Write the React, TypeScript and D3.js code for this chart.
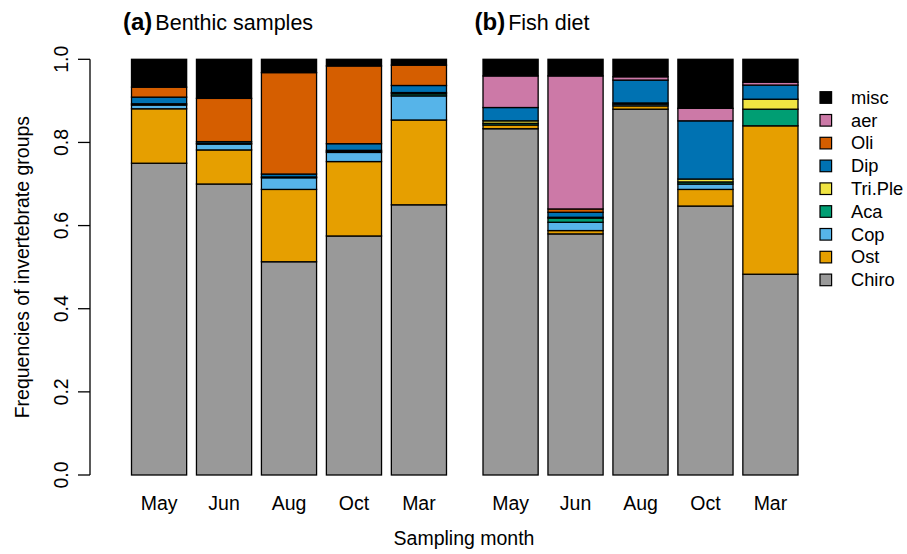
import React from "react";
import * as d3 from "d3";

const months = ["May", "Jun", "Aug", "Oct", "Mar"];
const groups = ["Chiro", "Ost", "Cop", "Aca", "Tri.Ple", "Dip", "Oli", "aer", "misc"];
const groupColors = ["#999999", "#E69F00", "#56B4E9", "#009E73", "#F0E442", "#0072B2", "#D55E00", "#CC79A7", "#000000"];
const yTicks = [0, 0.2, 0.4, 0.6, 0.8, 1.0];

// Benthic samples, per month, in order of groups
const benthicMay = [0.750, 0.131, 0.009, 0.003, 0.000, 0.016, 0.024, 0.000, 0.067];
const benthicJun = [0.700, 0.082, 0.014, 0.002, 0.000, 0.004, 0.104, 0.000, 0.094];
const benthicAug = [0.513, 0.174, 0.028, 0.002, 0.000, 0.007, 0.244, 0.000, 0.032];
const benthicOct = [0.575, 0.179, 0.022, 0.002, 0.003, 0.016, 0.187, 0.000, 0.016];
const benthicMar = [0.650, 0.204, 0.058, 0.005, 0.003, 0.017, 0.049, 0.000, 0.014];

// Fish diet
const dietMay = [0.833, 0.009, 0.000, 0.004, 0.006, 0.032, 0.000, 0.076, 0.040];
const dietJun = [0.580, 0.008, 0.020, 0.010, 0.002, 0.012, 0.008, 0.320, 0.040];
const dietAug = [0.880, 0.008, 0.004, 0.000, 0.003, 0.055, 0.000, 0.008, 0.042];
const dietOct = [0.647, 0.040, 0.013, 0.005, 0.007, 0.140, 0.000, 0.030, 0.118];
const dietMar = [0.483, 0.357, 0.000, 0.040, 0.024, 0.034, 0.000, 0.007, 0.055];

const benthic = [benthicMay, benthicJun, benthicAug, benthicOct, benthicMar];
const diet = [dietMay, dietJun, dietAug, dietOct, dietMar];

const W = 907;
const H = 554;
const FONT = "'Liberation Sans', Arial, sans-serif";

const y = d3.scaleLinear().domain([0, 1]).range([475, 59.3]);

function Panel({ data, x0, x1, label, title }: { data: number[][]; x0: number; x1: number; label: string; title: string }) {
  const x = d3.scaleBand<string>().domain(months).range([x0, x1]).paddingInner(0.151).paddingOuter(0);
  return (
    <g>
      {data.map((vals, i) => {
        let cum = 0;
        const m = months[i];
        return (
          <g key={m}>
            {vals.map((v, j) => {
              const lo = cum;
              cum += v;
              if (v <= 0) return null;
              return (
                <rect
                  key={groups[j]}
                  x={x(m)}
                  y={y(cum)}
                  width={x.bandwidth()}
                  height={y(lo) - y(cum)}
                  fill={groupColors[j]}
                  stroke="#000"
                  strokeWidth={1.3}
                />
              );
            })}
            <text x={(x(m) as number) + x.bandwidth() / 2} y={509.5} textAnchor="middle" fontSize={19.5} fontFamily={FONT}>
              {m}
            </text>
          </g>
        );
      })}
      <text x={x0 - 8.5} y={30} fontFamily={FONT}>
        <tspan fontWeight="bold" fontSize={24}>{label}</tspan>
        <tspan dx={3} fontSize={21.5}>{title}</tspan>
      </text>
    </g>
  );
}

export default function App() {
  const legendOrder = [...groups.keys()].reverse();
  return (
    <svg width={W} height={H} style={{ position: "absolute", left: 0, top: 0, background: "#fff" }}>
      <rect width={W} height={H} fill="#fff" />
      {/* y axis */}
      <line x1={90} x2={90} y1={y(0)} y2={y(1)} stroke="#000" strokeWidth={1.3} />
      {yTicks.map((t) => (
        <g key={t}>
          <line x1={78} x2={90} y1={y(t)} y2={y(t)} stroke="#000" strokeWidth={1.3} />
          <text
            transform={`translate(68,${y(t)}) rotate(-90)`}
            textAnchor="middle"
            fontSize={19.5}
            fontFamily={FONT}
          >
            {t.toFixed(1)}
          </text>
        </g>
      ))}
      <text transform={`translate(29,${(y(0) + y(1)) / 2}) rotate(-90)`} textAnchor="middle" fontSize={19.5} fontFamily={FONT}>
        Frequencies of invertebrate groups
      </text>
      <Panel data={benthic} x0={131.5} x1={446.5} label="(a)" title="Benthic samples" />
      <Panel data={diet} x0={483} x1={798} label="(b)" title="Fish diet" />
      <text x={464} y={545} textAnchor="middle" fontSize={19.5} fontFamily={FONT}>
        Sampling month
      </text>
      {legendOrder.map((j, k) => {
        const cy = 97.5 + k * 22.8;
        return (
          <g key={groups[j]}>
            <rect x={820} y={cy - 5.8} width={11.6} height={11.6} fill={groupColors[j]} stroke="#000" strokeWidth={1.2} />
            <text x={851} y={cy + 6.3} fontSize={18.3} fontFamily={FONT}>
              {groups[j]}
            </text>
          </g>
        );
      })}
    </svg>
  );
}
